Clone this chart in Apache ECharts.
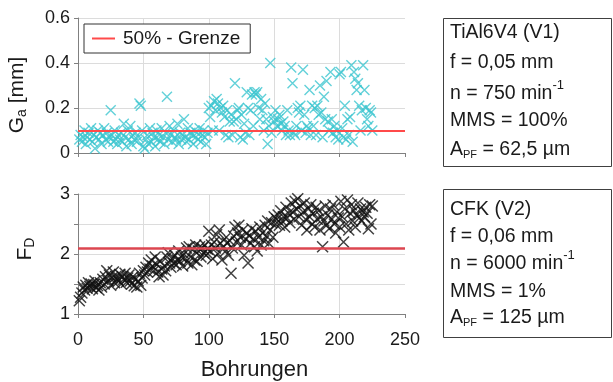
<!DOCTYPE html>
<html>
<head>
<meta charset="UTF-8">
<title>Bohrungen</title>
<script src="https://cdn.jsdelivr.net/npm/echarts@6/dist/echarts.min.js"></script>
<style>
    * { margin: 0; padding: 0; }
    body { background: #fff; }
    #chart { width: 613px; height: 382px; }
</style>
</head>
<body>
<div id="chart"></div>
<script>
// G_a [mm] je Bohrung (1..225)
var gaValues = [
    0.06,0.08,0.05,0.07,0.10,0.04,0.07,0.09,0.06,0.11,
    0.05,0.08,0.02,0.07,0.10,0.06,0.09,0.04,0.08,0.11,
    0.06,0.09,0.05,0.07,0.19,0.08,0.05,0.10,0.06,0.04,
    0.08,0.06,0.09,0.05,0.13,0.07,0.03,0.10,0.06,0.12,
    0.04,0.08,0.06,0.09,0.05,0.07,0.22,0.21,0.10,0.03,
    0.02,0.06,0.08,0.04,0.11,0.05,0.09,0.07,0.03,0.10,
    0.06,0.08,0.05,0.11,0.07,0.04,0.09,0.25,0.06,0.12,
    0.08,0.05,0.10,0.07,0.06,0.13,0.04,0.09,0.06,0.08,
    0.15,0.07,0.05,0.11,0.06,0.09,0.08,0.04,0.10,0.07,
    0.09,0.06,0.11,0.05,0.08,0.10,0.07,0.04,0.09,0.20,
    0.16,0.21,0.10,0.23,0.19,0.24,0.22,0.10,0.20,0.18,
    0.21,0.16,0.08,0.19,0.07,0.14,0.17,0.08,0.14,0.31,
    0.15,0.19,0.20,0.07,0.17,0.06,0.13,0.09,0.27,0.20,
    0.08,0.19,0.26,0.12,0.27,0.26,0.27,0.20,0.15,0.24,
    0.19,0.10,0.22,0.15,0.04,0.12,0.40,0.09,0.16,0.14,
    0.19,0.12,0.15,0.17,0.13,0.10,0.14,0.12,0.08,0.19,
    0.10,0.08,0.38,0.31,0.09,0.08,0.12,0.20,0.18,0.21,
    0.10,0.37,0.17,0.09,0.12,0.11,0.28,0.08,0.21,0.12,
    0.20,0.08,0.21,0.17,0.30,0.18,0.07,0.25,0.15,0.32,
    0.14,0.10,0.36,0.15,0.09,0.12,0.07,0.10,0.06,0.35,
    0.36,0.11,0.07,0.21,0.06,0.15,0.08,0.16,0.39,0.05,
    0.36,0.33,0.28,0.31,0.21,0.10,0.19,0.39,0.28,0.20,
    0.15,0.12,0.19,0.18,0.10
];
// F_D je Bohrung (1..225)
var fdValues = [
    1.22,1.28,1.35,1.45,1.40,1.48,1.43,1.52,1.46,1.50,
    1.42,1.49,1.55,1.44,1.47,1.40,1.52,1.45,1.58,1.50,
    1.62,1.72,1.55,1.65,1.48,1.60,1.70,1.52,1.63,1.58,
    1.55,1.66,1.50,1.62,1.58,1.68,1.53,1.60,1.65,1.55,
    1.50,1.62,1.47,1.58,1.45,1.55,1.68,1.48,1.60,1.72,
    1.65,1.78,1.70,1.85,1.75,1.90,1.80,1.72,1.95,1.83,
    1.70,1.62,1.88,1.75,1.65,1.80,1.72,1.95,2.02,1.85,
    1.78,1.92,1.85,1.98,1.82,1.90,2.05,1.88,1.95,1.80,
    2.00,1.92,2.10,1.85,2.12,1.95,1.82,2.08,1.90,2.15,
    1.88,2.05,2.12,1.95,2.10,2.02,2.15,1.98,2.08,2.38,
    2.05,2.15,1.92,2.20,2.10,2.32,2.00,2.40,2.18,1.90,
    2.12,2.25,2.05,2.18,1.98,2.22,1.68,2.10,2.30,2.45,
    2.20,2.35,2.48,2.28,2.15,2.40,1.98,2.25,2.35,1.85,
    2.30,2.18,2.42,2.25,2.12,2.38,2.05,2.28,2.45,2.15,
    2.35,2.22,2.48,2.30,2.55,2.18,2.40,2.52,2.28,2.62,
    2.50,2.58,2.65,2.48,2.72,2.55,2.62,2.45,2.78,2.60,
    2.68,2.52,2.85,2.70,2.58,2.88,2.75,2.92,2.62,2.80,
    2.48,2.70,2.85,2.58,2.40,2.75,2.62,2.82,2.50,2.68,
    2.45,2.78,2.58,2.72,2.40,2.62,2.12,2.55,2.80,2.48,
    2.65,2.42,2.75,2.58,2.82,2.50,2.35,2.70,2.60,2.45,
    2.88,2.62,2.20,2.75,2.50,2.90,2.40,2.68,2.82,2.55,
    2.72,2.45,2.65,2.85,2.60,2.75,2.55,2.70,2.62,2.78,
    2.68,2.42,2.82,2.50,2.80
];
var gaLimit = 0.1;     // 50% - Grenze oben
var fdLimit = 2.1;     // 50% - Grenze unten
var xTicks = { min: 0, max: 250, step: 50 };
var gaTicks = { min: 0, max: 0.6, step: 0.2 };
var fdTicks = { min: 1, max: 3, step: 0.5 };

var font = "'Liberation Sans', Arial, sans-serif";
var txt = '#1a1a1a';
var cross = 'path://M0,0L10,10M10,0L0,10';

function toPoints(arr) {
    return arr.map(function (v, i) { return [i + 1, v]; });
}

function xAxis(grid, labels) {
    return {
        gridIndex: grid, type: 'value',
        min: xTicks.min, max: xTicks.max, interval: xTicks.step,
        axisLine: { lineStyle: { color: '#808080' } },
        axisTick: { show: true, length: 4, lineStyle: { color: '#808080' } },
        axisLabel: { show: labels, color: txt, fontSize: 18, fontFamily: font, margin: 17 },
        splitLine: { show: true, showMaxLine: false, lineStyle: { color: '#dcdcdc' } },
        name: labels ? 'Bohrungen' : '',
        nameLocation: 'middle', nameGap: 45,
        nameTextStyle: { color: txt, fontSize: 22, fontFamily: font, padding: [0, 0, 0, 26] }
    };
}

function yAxis(grid, t, fmt) {
    return {
        gridIndex: grid, type: 'value',
        min: t.min, max: t.max, interval: t.step,
        axisLine: { show: true, lineStyle: { color: '#808080' } },
        axisTick: { show: true, length: 4, lineStyle: { color: '#808080' } },
        axisLabel: { color: txt, fontSize: 18, fontFamily: font, margin: 8, formatter: fmt },
        splitLine: { show: true, lineStyle: { color: '#dcdcdc' } }
    };
}

function limitLine(name, grid, val, color, w) {
    return {
        name: name, type: 'line', xAxisIndex: grid, yAxisIndex: grid,
        data: [], symbol: 'none',
        lineStyle: { color: color, width: w }, itemStyle: { color: color },
        markLine: {
            silent: true, symbol: ['none', 'none'], label: { show: false },
            lineStyle: { color: color, width: w, type: 'solid' },
            data: [{ yAxis: val }]
        }
    };
}

// Textboxen rechts
var boxes = [
    { y: 18, h: 148, lines: ['TiAl6V4 (V1)', 'f = 0,05 mm', 'n = 750 min{sup|-1}', 'MMS = 100%', 'A{sub|PF} = 62,5 µm'], pos: [33, 63, 94, 121, 150] },
    { y: 189, h: 148, lines: ['CFK (V2)', 'f = 0,06 mm', 'n = 6000 min{sup|-1}', 'MMS = 1%', 'A{sub|PF} = 125 µm'], pos: [210, 237, 264, 292, 318] }
];
var rich = {
    sup: { fontSize: 13, fontFamily: font, fill: txt, padding: [0, 0, 18, 0] },
    sub: { fontSize: 11, fontFamily: font, fill: txt, padding: [9, 0, 0, 0] }
};
var graphics = [];
boxes.forEach(function (b) {
    graphics.push({ type: 'rect', shape: { x: 443.5, y: b.y + 0.5, width: 168, height: b.h }, style: { fill: '#fff', stroke: '#404040', lineWidth: 1 } });
    b.lines.forEach(function (l, i) {
        graphics.push({
            type: 'text', x: 450, y: b.pos[i],
            style: { text: l, fontSize: 19.5, fontFamily: font, fill: txt, verticalAlign: 'middle', align: 'left', rich: rich }
        });
    });
});
// Achsentitel Y
graphics.push({
    type: 'text', x: 17, y: 95, rotation: Math.PI / 2,
    style: { text: 'G{s|a} [mm]', fontSize: 21, fontFamily: font, fill: txt, align: 'center', verticalAlign: 'middle',
        rich: { s: { fontSize: 14, fontFamily: font, fill: txt, padding: [10, 0, 0, 0] } } }
});
graphics.push({
    type: 'text', x: 25, y: 249, rotation: Math.PI / 2,
    style: { text: 'F{s|D}', fontSize: 21, fontFamily: font, fill: txt, align: 'center', verticalAlign: 'middle',
        rich: { s: { fontSize: 14, fontFamily: font, fill: txt, padding: [10, 0, 0, 0] } } }
});

var chart = echarts.init(document.getElementById('chart'));
chart.setOption({
    animation: false,
    backgroundColor: '#fff',
    grid: [
        { left: 78, top: 18, width: 327, height: 135 },
        { left: 78, top: 194, width: 327, height: 121 }
    ],
    xAxis: [xAxis(0, false), xAxis(1, true)],
    yAxis: [
        yAxis(0, gaTicks, function (v) { return v === 0 ? '0' : v.toFixed(1); }),
        yAxis(1, fdTicks, function (v) { return v % 1 === 0 ? String(v) : ''; })
    ],
    legend: {
        data: ['50% - Grenze'],
        left: 84, top: 24,
        padding: [5, 10, 5, 8],
        icon: 'rect',
        itemWidth: 23, itemHeight: 2, itemGap: 5,
        backgroundColor: '#fff', borderColor: '#333', borderWidth: 1,
        textStyle: { color: txt, fontSize: 19, fontFamily: font, padding: [0, 0, 0, 3] }
    },
    graphic: graphics,
    series: [
        {
            name: 'Ga', type: 'scatter', xAxisIndex: 0, yAxisIndex: 0,
            symbol: cross, symbolSize: 10,
            itemStyle: { color: 'transparent', borderColor: '#3cc6d0', borderWidth: 1.4 },
            data: toPoints(gaValues)
        },
        limitLine('50% - Grenze', 0, gaLimit, '#ff4a4a', 2),
        limitLine('Grenze FD', 1, fdLimit, '#dc4650', 2.5),
        {
            name: 'FD', type: 'scatter', xAxisIndex: 1, yAxisIndex: 1,
            symbol: cross, symbolSize: 11,
            itemStyle: { color: 'transparent', borderColor: '#111', borderWidth: 1.5 },
            data: toPoints(fdValues)
        }
    ]
});
</script>
</body>
</html>
